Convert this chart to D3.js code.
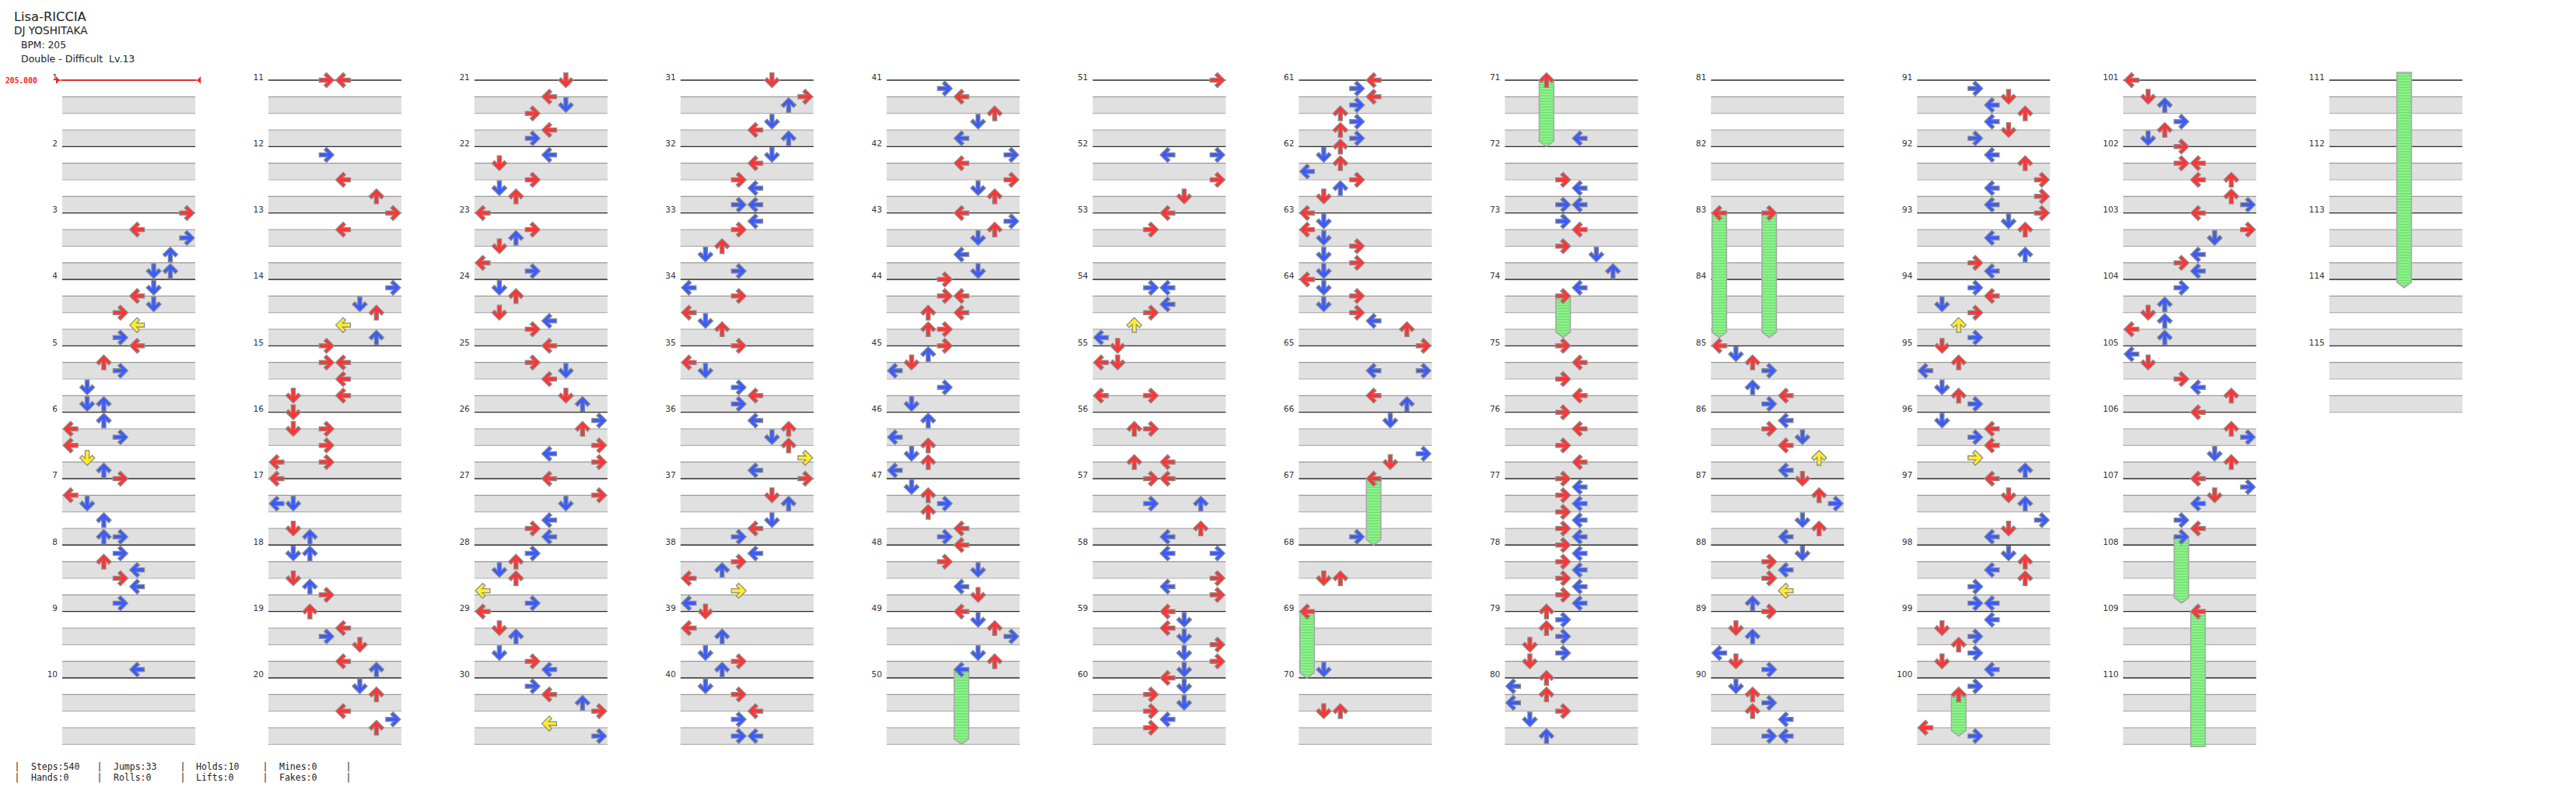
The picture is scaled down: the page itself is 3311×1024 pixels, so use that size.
<!DOCTYPE html>
<html><head><meta charset="utf-8">
<script src="https://cdn.jsdelivr.net/npm/d3@7"></script>
<style>body{margin:0;background:#fff}</style>
</head><body>
<svg id="chart" width="3311" height="1024"></svg>
<script>
// ---------------- DATA ----------------
const songTitle = "Lisa-RICCIA";
const songArtist = "DJ YOSHITAKA";
const bpmLabel = "BPM: 205";
const difficultyLabel = "Double - Difficult  Lv.13";
const bpmChanges = [[0, "205.000"]];
const statsRow1 = ["Steps:540", "Jumps:33", "Holds:10", "Mines:0"];
const statsRow2 = ["Hands:0", "Rolls:0", "Lifts:0", "Fakes:0"];
const totalMeasures = 115;
const measuresPerColumn = 10;
const beatsPerMeasure = 4;
const laneDirections = ["left", "down", "up", "right", "left", "down", "up", "right"];

// notes per column: [beat within the column (0-40), lane 0-7]
const notesCol01 = [[8,7],[9,4],[9.5,7],[10.5,6],[11.5,5],[11.5,6],[12.5,5],[13,4],[13.5,5],[14,3],[14.75,4],[15.5,3],[16,4],[17,2],[17.5,3],[18.5,1],[19.5,1],[19.5,2],[20.5,2],[21,0],[21.5,3],[22,0],[22.75,1],[23.5,2],[24,3],[25,0],[25.5,1],[26.5,2],[27.5,2],[27.5,3],[28.5,3],[29,2],[29.5,4],[30,3],[30.5,4],[31.5,3],[35.5,4]];
const notesCol02 = [[0,3],[0,4],[4.5,3],[6,4],[7,6],[8,7],[9,4],[12.5,7],[13.5,5],[14,6],[14.75,4],[15.5,6],[16,3],[17,3],[17,4],[18,4],[19,1],[19,4],[20,1],[21,1],[21,3],[22,3],[23,0],[23,3],[24,0],[25.5,0],[25.5,1],[27,1],[27.5,2],[28.5,1],[28.5,2],[30,1],[30.5,2],[31,3],[32,2],[33,4],[33.5,3],[34,5],[35,4],[35.5,6],[36.5,5],[37,6],[38,4],[38.5,7],[39,6]];
const notesCol03 = [[0,5],[1,4],[1.5,5],[2,3],[3,4],[3.5,3],[4.5,4],[5,1],[6,3],[6.5,1],[7,2],[8,0],[9,3],[9.5,2],[10,1],[11,0],[11.5,3],[12.5,1],[13,2],[14,1],[14.5,4],[15,3],[16,4],[17,3],[17.5,5],[18,4],[19,5],[19.5,6],[20.5,7],[21,6],[22,7],[22.5,4],[23,7],[24,4],[25,7],[25.5,5],[26.5,4],[27,3],[27.5,4],[28.5,3],[29,2],[29.5,1],[30,2],[30.75,0],[31.5,3],[32,0],[33,1],[33.5,2],[34.5,1],[35,3],[35.5,4],[36.5,3],[37,4],[37.5,6],[38,7],[38.75,4],[39.5,7]];
const notesCol04 = [[0,5],[1,7],[1.5,6],[2.5,5],[3,4],[3.5,6],[4.5,5],[5,4],[6,3],[6.5,4],[7.5,3],[7.5,4],[8.5,4],[9,3],[10,2],[10.5,1],[11.5,3],[12.5,0],[13,3],[14,0],[14.5,1],[15,2],[16,3],[17,0],[17.5,1],[18.5,3],[19,4],[19.5,3],[20.5,4],[21,6],[21.5,5],[22,6],[22.75,7],[23.5,4],[24,7],[25,5],[25.5,6],[26.5,5],[27,4],[27.5,3],[28.5,4],[29,3],[29.5,2],[30,0],[30.75,3],[31.5,0],[32,1],[33,0],[33.5,2],[34.5,1],[35,3],[35.5,2],[36.5,1],[37,3],[38,4],[38.5,3],[39.5,3],[39.5,4]];
const notesCol05 = [[0.5,3],[1,4],[2,6],[2.5,5],[3.5,4],[4.5,7],[5,4],[6,7],[6.5,5],[7,6],[8,4],[8.5,7],[9,6],[9.5,5],[10.5,4],[11.5,5],[12,3],[13,3],[13,4],[14,2],[14,4],[15,2],[15,3],[16,3],[16.5,2],[17,1],[17.5,0],[18.5,3],[19.5,1],[20.5,2],[21.5,0],[22,2],[22.5,1],[23,2],[23.5,0],[24.5,1],[25,2],[25.5,3],[26,2],[27,4],[27.5,3],[28,4],[29,3],[29.5,5],[30.5,4],[31,5],[32,4],[32.5,5],[33,6],[33.5,7],[34.5,5],[35,6]];
const notesCol06 = [[0,7],[4.5,4],[4.5,7],[6,7],[7,5],[8,4],[9,3],[12.5,3],[12.5,4],[13.5,4],[14,3],[14.75,2],[15.5,0],[16,1],[17,0],[17,1],[19,0],[19,3],[21,2],[21,3],[23,2],[23,4],[24,3],[24,4],[25.5,3],[25.5,6],[27,6],[27.5,4],[28.5,4],[28.5,7],[30,7],[30.5,4],[31,7],[32,4],[32.5,5],[33,4],[33.5,5],[34,7],[34.5,5],[35,7],[35.5,5],[36,4],[36.5,5],[37,3],[37.5,5],[38,3],[38.5,4],[39,3]];
const notesCol07 = [[0,4],[0.5,3],[1,4],[1.5,3],[2,2],[2.5,3],[3,2],[3.5,3],[4,2],[4.5,1],[5,2],[5.5,0],[6,3],[6.5,2],[7,1],[8,0],[8.5,1],[9,0],[9.5,1],[10,3],[10.5,1],[11,3],[11.5,1],[12,0],[12.5,1],[13,3],[13.5,1],[14,3],[14.5,4],[15,6],[16,7],[17.5,4],[17.5,7],[19,4],[19.5,6],[20.5,5],[22.5,7],[23,5],[27.5,3],[30,1],[30,2],[35.5,1],[38,1],[38,2]];
const notesCol08 = [[3.5,4],[6,3],[6.5,4],[7.5,3],[7.5,4],[8.5,3],[9,4],[10,3],[10.5,5],[11.5,6],[12.5,4],[16,3],[17,4],[18,3],[19,4],[20,3],[21,4],[22,3],[23,4],[24,3],[24.5,4],[25,3],[25.5,4],[26,3],[26.5,4],[27,3],[27.5,4],[28,3],[28.5,4],[29,3],[29.5,4],[30,3],[30.5,4],[31,3],[31.5,4],[32,2],[32.5,3],[33,2],[33.5,3],[34,1],[34.5,3],[35,1],[36,2],[36.5,0],[37,2],[37.5,0],[38,3],[38.5,1],[39.5,2]];
const notesCol09 = [[16,0],[16.5,1],[17,2],[17.5,3],[18.5,2],[19,4],[19.5,3],[20.5,4],[21,3],[21.5,5],[22,4],[22.75,6],[23.5,4],[24,5],[25,6],[25.5,7],[26.5,5],[27,6],[27.5,4],[28.5,5],[29,3],[29.5,4],[30,3],[30.75,4],[31.5,2],[32,3],[33,1],[33.5,2],[34.5,0],[35,1],[35.5,3],[36.5,1],[37,2],[37.5,3],[38,2],[38.5,4],[39.5,3],[39.5,4]];
const notesCol10 = [[0.5,3],[1,5],[1.5,4],[2,6],[2.5,4],[3,5],[3.5,3],[4.5,4],[5,6],[6,7],[6.5,4],[7,7],[7.5,4],[8,7],[8.5,5],[9,6],[9.5,4],[10.5,6],[11,3],[11.5,4],[12.5,3],[13,4],[13.5,1],[14,3],[14.75,2],[15.5,3],[16,1],[17,2],[17.5,0],[18.5,1],[19,2],[19.5,3],[20.5,1],[21,4],[21.5,3],[22,4],[22.75,3],[23.5,6],[24,4],[25,5],[25.5,6],[26.5,7],[27,5],[27.5,4],[28.5,5],[29,6],[29.5,4],[30,6],[30.5,3],[31.5,3],[31.5,4],[32.5,4],[33,1],[33.5,3],[34,2],[34.5,3],[35,1],[35.5,4],[36.5,3],[39,0],[39.5,3]];
const notesCol11 = [[0,0],[1,1],[1.5,2],[2.5,3],[3,2],[3.5,1],[4,3],[5,3],[5,4],[6,4],[6,6],[7,6],[7.5,7],[8,4],[9,7],[9.5,5],[10.5,4],[11,3],[11.5,4],[12.5,3],[13.5,2],[14,1],[14.5,2],[15,0],[15.5,2],[16.5,0],[17,1],[18,3],[18.5,4],[19,6],[20,4],[21,6],[21.5,7],[22.5,5],[23,6],[24,4],[24.5,7],[25,5],[25.5,4],[26.5,3],[27,4]];
const notesCol12 = [];

// holds: [start beat, end beat, lane] in beats from the start of the song
const holds = [[195.5,200,4],[264,268,4],[272,276,0],[280,284,2],[293,295.5,3],[328,335.5,0],[328,335.5,3],[397,399.5,2],[427.5,431.5,3],[432,452.5,4]];

// ---------------- DRAWING ----------------
const columns = [notesCol01, notesCol02, notesCol03, notesCol04, notesCol05, notesCol06,
                 notesCol07, notesCol08, notesCol09, notesCol10, notesCol11, notesCol12];
const beatsPerColumn = measuresPerColumn * beatsPerMeasure;
const nCols = Math.ceil(totalMeasures / measuresPerColumn);

const svg = d3.select("#chart");
const colScale = d3.scaleLinear().domain([0, nCols - 1]).range([80, 80 + (nCols - 1) * 264.9]);
const laneScale = d3.scaleBand().domain(d3.range(8)).range([0, 171]).padding(0);
const yScale = d3.scaleLinear().domain([0, beatsPerColumn]).range([103, 103 + beatsPerColumn * 21.333]);
const laneW = laneScale.bandwidth();
const laneCenter = l => laneScale(l) + laneW / 2;

const defs = svg.append("defs");
const pat = defs.append("pattern").attr("id", "holdStripe").attr("patternUnits", "userSpaceOnUse")
  .attr("width", 6).attr("height", 2);
pat.append("rect").attr("width", 6).attr("height", 2).attr("fill", "#b4f7b4");
pat.append("rect").attr("width", 6).attr("height", 1).attr("fill", "#4fe04f");

const colorOf = b => {
  const f = ((b % 1) + 1) % 1;
  if (Math.abs(f) < 1e-6) return "#ff3434";
  if (Math.abs(f - 0.5) < 1e-6) return "#3a5cff";
  return "#ffec2a";
};
const rotOf = { left: 90, down: 0, up: 180, right: -90 };
const arrowPath = "M0,9.6 L9.6,0 L6.4,-3.2 L2.6,0.6 L2.6,-9.4 L-2.6,-9.4 L-2.6,0.6 L-6.4,-3.2 L-9.6,0 Z";

// header texts
const hdr = svg.append("g").attr("font-family", "DejaVu Sans, sans-serif").attr("fill", "#222");
hdr.append("text").attr("x", 18).attr("y", 27).attr("font-size", 16.3).text(songTitle);
hdr.append("text").attr("x", 18).attr("y", 44).attr("font-size", 13.6).text(songArtist);
hdr.append("text").attr("x", 27).attr("y", 62).attr("font-size", 12.3).text(bpmLabel);
hdr.append("text").attr("x", 27).attr("y", 80).attr("font-size", 12.5).attr("xml:space", "preserve").style("white-space", "pre").text(difficultyLabel);

for (let c = 0; c < nCols; c++) {
  const g = svg.append("g").attr("transform", `translate(${colScale(c)},0)`);
  const nMeas = Math.min(measuresPerColumn, totalMeasures - c * measuresPerColumn);
  const nBeats = nMeas * beatsPerMeasure;
  // grey bands
  const bands = [];
  for (let m = 0; m < nMeas; m++) { bands.push(m * 4 + 1, m * 4 + 3); }
  g.selectAll("rect.band").data(bands).join("rect").attr("class", "band")
    .attr("x", 0).attr("width", 171).attr("y", d => yScale(d)).attr("height", d => yScale(d + 1) - yScale(d))
    .attr("fill", "#e0e0e0");
  // beat lines
  const lines = d3.range(0, nBeats + 1);
  g.selectAll("line.beat").data(lines).join("line").attr("class", "beat")
    .attr("x1", 0).attr("x2", 171).attr("y1", d => yScale(d)).attr("y2", d => yScale(d))
    .attr("stroke", d => (d % 4 === 0 && d < nBeats) ? "#2a2a2a" : (d % 2 === 1 ? "#9a9a9a" : "#b0b0b0"))
    .attr("stroke-width", d => (d % 4 === 0 && d < nBeats) ? 1.4 : 1.2);
  // measure labels
  g.selectAll("text.mnum").data(d3.range(nMeas)).join("text").attr("class", "mnum")
    .attr("x", -6).attr("y", m => yScale(m * 4) - 0.5).attr("text-anchor", "end")
    .attr("font-family", "DejaVu Sans, sans-serif").attr("font-size", 10.5).attr("fill", "#333")
    .text(m => c * measuresPerColumn + m + 1);

  // hold bodies
  const colStart = c * beatsPerColumn, colEnd = colStart + beatsPerColumn;
  const segs = holds.filter(h => h[0] < colEnd && h[1] > colStart).map(h => ({
    s: h[0], e: h[1], lane: h[2], headIn: h[0] >= colStart, tailIn: h[1] <= colEnd
  }));
  g.selectAll("path.hold").data(segs).join("path").attr("class", "hold")
    .attr("d", d => {
      const cx = laneCenter(d.lane), hw = 9.3;
      const y1 = d.headIn ? yScale(d.s - colStart) : yScale(0) - 10;
      const y2 = d.tailIn ? yScale(d.e - colStart) : yScale(beatsPerColumn) + 3;
      if (d.tailIn) return `M${cx - hw},${y1} L${cx + hw},${y1} L${cx + hw},${y2 - 7} L${cx},${y2} L${cx - hw},${y2 - 7} Z`;
      return `M${cx - hw},${y1} L${cx + hw},${y1} L${cx + hw},${y2} L${cx - hw},${y2} Z`;
    })
    .attr("fill", "url(#holdStripe)").attr("stroke", "#a8a8a8").attr("stroke-width", 1.6);

  // arrows (taps + hold heads)
  const taps = columns[c].map(n => ({ b: n[0], lane: n[1] }));
  segs.filter(s => s.headIn).forEach(s => taps.push({ b: s.s - colStart, lane: s.lane }));
  g.selectAll("path.arrow").data(taps).join("path").attr("class", "arrow")
    .attr("d", arrowPath)
    .attr("transform", d => `translate(${laneCenter(d.lane)},${yScale(d.b)}) rotate(${rotOf[laneDirections[d.lane]]})`)
    .attr("fill", d => colorOf(d.b)).attr("stroke", "#8c8c8c").attr("stroke-width", 1.3)
    .attr("stroke-linejoin", "miter");
}

// BPM marker
const bg = svg.append("g");
bpmChanges.forEach(([beat, label]) => {
  const y = yScale(beat), x0 = colScale(0) - 8, x1 = colScale(0) + 171 + 7;
  bg.append("line").attr("x1", x0).attr("x2", x1).attr("y1", y).attr("y2", y).attr("stroke", "#ff2020").attr("stroke-width", 1.5);
  bg.append("path").attr("d", `M${x0},${y - 5} L${x0 + 4.5},${y} L${x0},${y + 5} Z`).attr("fill", "#ff2020");
  bg.append("path").attr("d", `M${x1},${y - 5} L${x1 - 4.5},${y} L${x1},${y + 5} Z`).attr("fill", "#ff2020");
  bg.append("text").attr("x", 7).attr("y", y + 3.5).attr("font-family", "DejaVu Sans Mono, monospace")
    .attr("font-size", 9.7).attr("font-weight", "bold").attr("fill", "#ff2020").text(label);
});

// footer stats
const fg = svg.append("g").attr("font-family", "DejaVu Sans Mono, monospace").attr("font-size", 11.5).attr("fill", "#222");
const pipeX = [22, 128, 235, 341, 448];
const textX = [40, 146, 252, 359];
[[statsRow1, 989], [statsRow2, 1003]].forEach(([row, y]) => {
  fg.selectAll(null).data(row).join("text").attr("x", (d, i) => textX[i]).attr("y", y).text(d => d);
  fg.selectAll(null).data(pipeX).join("text").attr("x", d => d).attr("y", y).attr("text-anchor", "middle").text("|");
});
</script>
</body></html>
